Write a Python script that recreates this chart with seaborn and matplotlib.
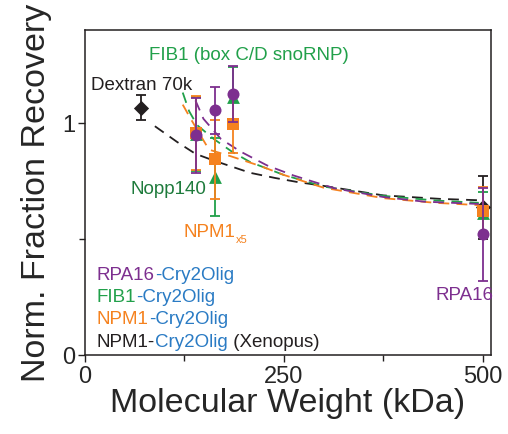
import matplotlib
matplotlib.use('Agg')
import matplotlib.pyplot as plt
import numpy as np
import pandas as pd
import seaborn as sns

# colours
PURPLE = '#7d2f8f'
GREEN = '#21a04a'
DKGREEN = '#1e7b3c'
ORANGE = '#f5821f'
BLUE = '#2a7bc4'
BLACK = '#231f20'

# measured points (kDa, normalised recovery, error)
black_x = [71, 500]
black_y = [1.065, 0.635]
black_e = [0.055, 0.135]

green_x = [140, 164, 186, 500]
green_y = [0.95, 0.766, 1.11, 0.61]
green_e = [0.16, 0.17, 0.13, 0.09]

orange_x = [140, 164, 186, 500]
orange_y = [0.955, 0.842, 0.995, 0.62]
orange_e = [0.16, 0.17, 0.125, 0.105]

purple_x = [140, 164, 186, 500]
purple_y = [0.945, 1.053, 1.125, 0.52]
purple_e = [0.16, 0.10, 0.12, 0.20]

# fit curves
black_fx = [88, 116, 139, 162, 208, 239, 268, 296, 375, 446, 495]
black_fy = [0.985, 0.917, 0.866, 0.837, 0.784, 0.762, 0.744, 0.73, 0.687, 0.672, 0.666]
green_fx = [123, 131, 141, 162, 185, 208, 250, 300, 375, 440, 495]
green_fy = [1.13, 1.05, 0.99, 0.93, 0.875, 0.83, 0.775, 0.725, 0.685, 0.665, 0.655]
orange_fx = [123, 133, 156, 183, 221, 250, 300, 375, 440, 495]
orange_fy = [1.078, 1.017, 0.884, 0.856, 0.813, 0.775, 0.72, 0.675, 0.655, 0.645]
purple_fx = [139, 149, 171, 196, 229, 262, 313, 375, 426, 495]
purple_fy = [1.096, 1.017, 0.93, 0.875, 0.816, 0.773, 0.718, 0.68, 0.66, 0.65]

sns.set_style('ticks')
plt.rcParams['font.family'] = ['Liberation Sans', 'DejaVu Sans']

fig = plt.figure(figsize=(5.08, 4.35), dpi=100)
ax = fig.add_axes([0.167, 0.182, 0.799, 0.747])

dash = (0, (6, 4))
for fx, fy, c in [(black_fx, black_fy, BLACK), (green_fx, green_fy, GREEN),
                  (orange_fx, orange_fy, ORANGE), (purple_fx, purple_fy, PURPLE)]:
    d = pd.DataFrame({'x': fx, 'y': fy})
    sns.lineplot(data=d, x='x', y='y', color=c, lw=1.3, ax=ax, zorder=1)
    ax.lines[-1].set_linestyle(dash)

series = [
    (black_x, black_y, black_e, BLACK, 'D', 60),
    (green_x, green_y, green_e, GREEN, '^', 85),
    (orange_x, orange_y, orange_e, ORANGE, 's', 65),
    (purple_x, purple_y, purple_e, PURPLE, 'o', 75),
]
z = 3
for xs, ys, es, c, m, s in series:
    ax.errorbar(xs, ys, yerr=es, fmt='none', ecolor=c, elinewidth=1.3,
                capsize=3.5, capthick=1.3, zorder=z)
    d = pd.DataFrame({'x': xs, 'y': ys})
    sns.scatterplot(data=d, x='x', y='y', color=c, marker=m, s=s,
                    linewidth=0, ax=ax, zorder=z + 1)
    z += 2

ax.set_xlim(0, 510)
ax.set_ylim(0, 1.4)
ax.set_xticks([0, 250, 500])
ax.set_xticks([125, 375], minor=True)
ax.set_yticks([0, 1])
ax.set_yticks([0.5], minor=True)
ax.tick_params(axis='both', which='major', labelsize=17, length=5, width=1,
               pad=2, color=BLACK)
ax.tick_params(axis='both', which='minor', length=4, width=1, color=BLACK)
for sp in ax.spines.values():
    sp.set_linewidth(1.1)
    sp.set_color(BLACK)
ax.set_xlabel('Molecular Weight (kDa)', fontsize=24.5, labelpad=0)
ax.set_ylabel('Norm. Fraction Recovery', fontsize=24.5, labelpad=7)

fs = 13.5
ax.text(80, 1.276, 'FIB1 (box C/D snoRNP)', color=GREEN, fontsize=fs)
ax.text(7.5, 1.147, 'Dextran 70k', color=BLACK, fontsize=fs)
ax.text(57.6, 0.698, 'Nopp140', color=DKGREEN, fontsize=fs)
t = ax.text(124.5, 0.514, 'NPM1', color=ORANGE, fontsize=fs)
ax.annotate('x5', xy=(1, 0), xycoords=t, xytext=(0, -3), textcoords='offset points',
            va='bottom', color=ORANGE, fontsize=8)
ax.text(440, 0.241, 'RPA16', color=PURPLE, fontsize=fs)

legend_lines = [
    [('RPA16', PURPLE), ('-Cry2Olig', BLUE)],
    [('FIB1', GREEN), ('-Cry2Olig', BLUE)],
    [('NPM1', ORANGE), ('-Cry2Olig', BLUE)],
    [('NPM1-', BLACK), ('Cry2Olig', BLUE), (' (Xenopus)', BLACK)],
]
legend_y = [0.328, 0.232, 0.136, 0.04]
for parts, yy in zip(legend_lines, legend_y):
    prev = ax.text(15, yy, parts[0][0], color=parts[0][1], fontsize=fs)
    for txt, c in parts[1:]:
        prev = ax.annotate(txt, xy=(1, 0), xycoords=prev, va='bottom',
                           color=c, fontsize=fs)

fig.savefig('out.png', dpi=100)
